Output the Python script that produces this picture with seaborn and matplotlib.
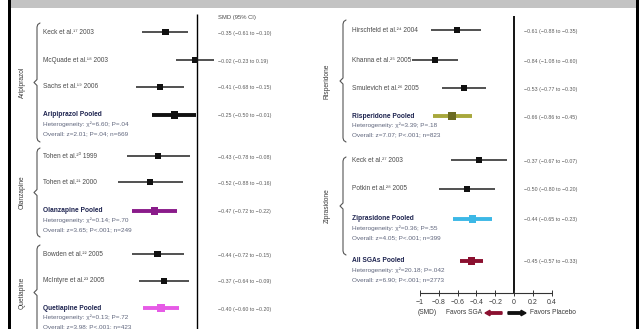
import numpy as np
import pandas as pd
import matplotlib.pyplot as plt
import seaborn as sns
from matplotlib.patches import Rectangle, FancyArrow

sns.set_theme(style='white')
plt.rcParams['font.family'] = ['Liberation Sans', 'DejaVu Sans']

W, H = 642, 329

# ---- data ----
left_studies = ['Keck et al.¹⁷ 2003', 'McQuade et al.¹⁸ 2003', 'Sachs et al.¹⁹ 2006',
                'Tohen et al.²⁰ 1999', 'Tohen et al.²¹ 2000',
                'Bowden et al.²² 2005', 'McIntyre et al.²³ 2005']
left_smd = [-0.35, -0.02, -0.41, -0.43, -0.52, -0.44, -0.37]
left_lo = [-0.61, -0.23, -0.68, -0.78, -0.88, -0.72, -0.64]
left_hi = [-0.10, 0.19, -0.15, -0.08, -0.16, -0.15, -0.09]

right_studies = ['Hirschfeld et al.²⁴ 2004', 'Khanna et al.²⁵ 2005', 'Smulevich et al.²⁶ 2005',
                 'Keck et al.²⁷ 2003', 'Potkin et al.²⁸ 2005']
right_smd = [-0.61, -0.84, -0.53, -0.37, -0.50]
right_lo = [-0.88, -1.08, -0.77, -0.67, -0.80]
right_hi = [-0.35, -0.60, -0.30, -0.07, -0.20]

pooled_names = ['Aripiprazol Pooled', 'Olanzapine Pooled', 'Quetiapine Pooled',
                'Risperidone Pooled', 'Ziprasidone Pooled', 'All SGAs Pooled']
pooled_smd = [-0.25, -0.47, -0.40, -0.66, -0.44, -0.45]
pooled_lo = [-0.50, -0.72, -0.60, -0.86, -0.65, -0.57]
pooled_hi = [-0.01, -0.22, -0.20, -0.45, -0.23, -0.33]
pooled_het = ['χ²=6.60; P=.04', 'χ²=0.14; P=.70', 'χ²=0.13; P=.72',
              'χ²=3.39; P=.18', 'χ²=0.36; P=.55', 'χ²=20.18; P=.042']
pooled_overall = ['z=2.01; P=.04; n=669', 'z=3.65; P<.001; n=249', 'z=3.98; P<.001; n=423',
                  'z=7.07; P<.001; n=823', 'z=4.05; P<.001; n=399', 'z=6.90; P<.001; n=2773']

groups = ['Aripiprazol', 'Olanzapine', 'Quetiapine', 'Risperidone', 'Ziprasidone']
axis_ticks = [-1, -0.8, -0.6, -0.4, -0.2, 0, 0.2, 0.4]

# ---- layout / styles ----
left_y = [32, 60, 87, 156, 182, 254, 281]
right_y = [30, 60, 88, 160, 189]
pooled_y = [115, 211, 308, 116, 219, 261]
pooled_panel = ['L', 'L', 'L', 'R', 'R', 'R']
pooled_line_col = ['#111111', '#8a1b8a', '#e65be6', '#a8a83c', '#3cb8e6', '#8b1030']
pooled_mark_col = ['#111111', '#8a1b8a', '#e65be6', '#6b6b22', '#3cb8e6', '#8b1030']
L0, LS = 197, 90   # zero pixel and px per unit, left panel
R0, RS = 514, 94

fig = plt.figure(figsize=(W / 100, H / 100), dpi=100)
axL = fig.add_axes([11 / W, 0, (320 - 11) / W, 1])
axR = fig.add_axes([320 / W, 0, (636 - 320) / W, 1])
axL.set_xlim((11 - L0) / LS, (320 - L0) / LS)
axR.set_xlim((320 - R0) / RS, (636 - R0) / RS)
for ax in (axL, axR):
    ax.set_ylim(H, 0)
    ax.axis('off')

over = fig.add_axes([0, 0, 1, 1], zorder=5)
over.set_xlim(0, W)
over.set_ylim(H, 0)
over.axis('off')
over.patch.set_alpha(0)

# frame pieces
over.add_patch(Rectangle((11, 0), 625, 7.5, color='#c3c3c3', lw=0))
over.add_patch(Rectangle((8, 0), 3, H, color='black', lw=0))
over.add_patch(Rectangle((636, 0), 3, H, color='black', lw=0))

# zero lines
axL.vlines(0, 14, H, color='black', lw=1.0)
axR.vlines(0, 16, 293, color='black', lw=1.3)

# study rows
for ax, names, smd, lo, hi, ys, x0, xtxt in [
        (axL, left_studies, left_smd, left_lo, left_hi, left_y, 43, 218),
        (axR, right_studies, right_smd, right_lo, right_hi, right_y, 352, 524)]:
    df = pd.DataFrame({'smd': smd, 'y': ys})
    ax.hlines(ys, lo, hi, color='#222222', lw=1.1)
    sns.scatterplot(data=df, x='smd', y='y', marker='s', s=20, color='#111111',
                    edgecolor='none', ax=ax, legend=False, zorder=3)
    for n, s, a, b, y in zip(names, smd, lo, hi, ys):
        over.text(x0, y, n, fontsize=4.7, color='#4a4a4a', va='center')
        over.text(xtxt, y + 1, f'{s:.2f} ({a:.2f} to {b:.2f})'.replace('-', '−'),
                  fontsize=3.8, color='#5a5a5a', va='center')

# pooled rows
for i, name in enumerate(pooled_names):
    ax = axL if pooled_panel[i] == 'L' else axR
    x0 = 43 if pooled_panel[i] == 'L' else 352
    xtxt = 218 if pooled_panel[i] == 'L' else 524
    y = pooled_y[i]
    ax.hlines(y, pooled_lo[i], pooled_hi[i], color=pooled_line_col[i], lw=2.8)
    sns.scatterplot(x=[pooled_smd[i]], y=[y], marker='s', s=28, color=pooled_mark_col[i],
                    edgecolor='none', ax=ax, legend=False, zorder=3)
    over.text(x0, y, name, fontsize=4.8, color='#1e2450', fontweight='bold', va='center')
    over.text(x0, y + 9.5, 'Heterogeneity: ' + pooled_het[i], fontsize=4.6,
              color='#5f657c', va='center')
    over.text(x0, y + 19, 'Overall: ' + pooled_overall[i].replace('-', '−'), fontsize=4.6,
              color='#5f657c', va='center')
    over.text(xtxt, y + 1, f'{pooled_smd[i]:.2f} ({pooled_lo[i]:.2f} to {pooled_hi[i]:.2f})'.replace('-', '−'),
              fontsize=3.8, color='#5a5a5a', va='center')

over.text(237, 17, 'SMD (95% CI)', fontsize=4.2, color='#4a4a4a', ha='center', va='center')


# braces and group labels
def brace(x, y0, y1, label, xl):
    ym = (y0 + y1) / 2
    xs = [x + 3, x + 0.8, x, x, x - 3, x, x, x + 0.8, x + 3]
    ys = [y0, y0 + 1.5, y0 + 4, ym - 3, ym, ym + 3, y1 - 4, y1 - 1.5, y1]
    over.plot(xs, ys, color='#555555', lw=0.8)
    over.text(xl, ym, label, rotation=90, fontsize=4.8, color='#3a3a3a',
              ha='center', va='center')


brace(37, 23, 142, groups[0], 22)
brace(37, 148, 237, groups[1], 22)
brace(37, 245, 340, groups[2], 22)
brace(343, 20, 142, groups[3], 327)
brace(343, 157, 255, groups[4], 327)

# x axis of the right panel
axR.hlines(293, axis_ticks[0], axis_ticks[-1], color='#333333', lw=0.8)
for t in axis_ticks:
    axR.vlines(t, 290, 296, color='#333333', lw=0.7)
    over.text(R0 + RS * t, 303, f'{t:g}'.replace('-', '−'), fontsize=5.0,
              color='#3a3a3a', ha='center', va='center')
over.text(418, 313, '(SMD)', fontsize=4.8, color='#3a3a3a', va='center')
over.text(482, 313, 'Favors SGA', fontsize=4.8, color='#3a3a3a', ha='right', va='center')
over.text(530, 313, 'Favors Placebo', fontsize=4.8, color='#3a3a3a', va='center')
over.add_patch(FancyArrow(502, 313, -17, 0, width=2.4, head_width=5.5, head_length=5,
                          color='#8b1030', length_includes_head=True))
over.add_patch(FancyArrow(508, 313, 18, 0, width=2.4, head_width=5.5, head_length=5,
                          color='#111111', length_includes_head=True))

fig.savefig('out.png', dpi=100)
